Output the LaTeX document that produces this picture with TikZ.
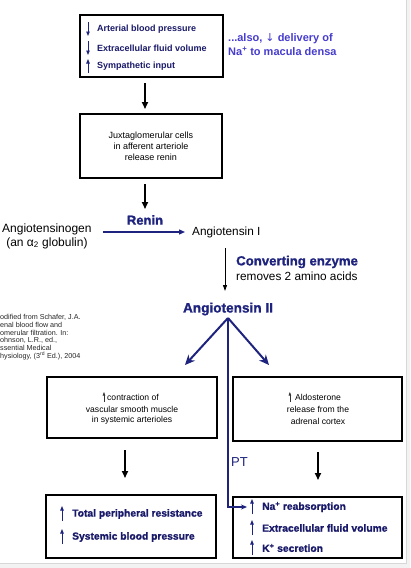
\documentclass[tikz,border=0pt]{standalone}
\usepackage{fontspec}
\setmainfont{Liberation Sans}
\newfontfamily\djv{DejaVu Sans}
\newfontfamily\heavy[FakeBold=1.2]{Liberation Sans Bold}
\usetikzlibrary{arrows.meta}
\definecolor{navy}{RGB}{30,35,125}
\definecolor{boxtxt}{RGB}{25,25,105}
\definecolor{alsoblue}{RGB}{70,60,205}
\definecolor{edgegray}{RGB}{215,215,215}
\definecolor{stripgray}{RGB}{242,242,242}
\tikzset{
  box/.style={draw=black, line width=1.8pt, rectangle, inner sep=0pt},
  lbl/.style={inner sep=0pt, anchor=west},
  cbox/.style={inner sep=0pt, align=center, font=\fontsize{9}{11.2}\selectfont},
  listone/.style={inner sep=0pt, anchor=west, text=boxtxt, font=\fontsize{9}{11}\selectfont\bfseries},
  listtwo/.style={inner sep=0pt, anchor=west, text=boxtxt, font=\fontsize{10.3}{12}\selectfont\heavy},
  flowarr/.style={line width=1.6pt, -{Triangle[length=7pt,width=6pt]}},
  thinarr/.style={line width=1pt, -{Triangle[length=6pt,width=4pt]}},
  navyarr/.style={draw=navy, line width=1.3pt, -{Triangle[length=6pt,width=5pt]}, fill=navy},
  vee/.style={draw=navy, line width=2pt, -{Stealth[length=10pt,width=9pt]}},
  bluearr/.style={draw=navy, line width=1.2pt, -{Stealth[length=6pt,width=5pt]}},
  uarr/.style={draw=navy, line width=0.9pt, -{Triangle[length=4.5pt,width=3.5pt]}},
  smallarr/.style={draw=black!80, line width=0.6pt, -{Triangle[length=3.5pt,width=2.5pt]}},
  stxt/.style={inner sep=0pt, font=\fontsize{8.6}{11}\selectfont},
}
\begin{document}
\begin{tikzpicture}[x=1pt,y=-1pt]
\useasboundingbox (0,0) rectangle (410,568);
% page edges
\fill[stripgray] (406,0) rectangle (410,568);
\fill[stripgray] (0,563) rectangle (410,568);
\draw[edgegray, line width=0.8pt] (406,0) -- (406,563) -- (0,563);

% boxes
\node[box, minimum width=143pt, minimum height=62pt] (b1) at (151.5,46) {};
\node[box, minimum width=142pt, minimum height=64pt, cbox] (b2) at (151,146)
  {Juxtaglomerular cells\\in afferent arteriole\\release renin};
\node[box, minimum width=170pt, minimum height=61pt] (b3) at (132,407.5) {};
\node[box, minimum width=169pt, minimum height=64pt] (b4) at (317.5,409) {};
\node[box, minimum width=170pt, minimum height=63pt] (b5) at (131,526.5) {};
\node[box, minimum width=169pt, minimum height=61pt] (b6) at (317.5,527.5) {};

% box 1 list
\node[listone] (t11) at (97,29) {Arterial blood pressure};
\node[listone] (t12) at (97,48) {Extracellular fluid volume};
\node[listone] (t13) at (97,66) {Sympathetic input};
\draw[uarr] (88,22) -- (88,36);
\draw[uarr] (88,41) -- (88,55);
\draw[uarr] (88,73) -- (88,59);

% also note
\node[lbl, text=alsoblue, font=\fontsize{11}{14}\selectfont\bfseries, align=left, anchor=north west] (also) at (228,33)
  {...also, {\djv\mdseries ↓} delivery of\\Na\textsuperscript{+} to macula densa};

% flow arrows between top boxes
\coordinate (a1s) at (145,83);
\coordinate (a1e) at (145,109);
\draw[flowarr] (a1s) -- (a1e);
\coordinate (a2s) at (145,184);
\coordinate (a2e) at (145,209);
\draw[flowarr] (a2s) -- (a2e);

% renin step
\node[lbl, font=\fontsize{12}{14}\selectfont] (agen1) at (2,229) {Angiotensinogen};
\node[inner sep=0pt, font=\fontsize{12}{14}\selectfont] (agen2) at (agen1.center |- 0,243) {(an α\textsubscript{2} globulin)};
\node[lbl, font=\fontsize{11.8}{14}\selectfont] (ang1) at (192,232) {Angiotensin I};
\draw[navyarr, shorten <=11pt, shorten >=7pt] (agen1.east |- ang1.west) -- (ang1.west);
\node[inner sep=0pt, text=navy, font=\fontsize{13}{15}\selectfont\heavy] (renin) at (145,220) {Renin};

% converting enzyme
\node[lbl, text=navy, font=\fontsize{13.2}{15}\selectfont\heavy] (ce) at (236,262) {Converting enzyme};
\node[lbl, font=\fontsize{11.8}{13}\selectfont] (ce2) at (236,276) {removes 2 amino acids};
\node[inner sep=0pt, text=navy, font=\fontsize{13.6}{15}\selectfont\heavy] (ang2) at (228,309) {Angiotensin II};
\coordinate (c1) at (225,248);
\coordinate (c2) at (225,291);
\draw[thinarr] (c1) -- (c2);

% V arrows
\coordinate (apex) at (228,318);
\coordinate (vl) at (185,365);
\coordinate (vr) at (269,365);
\draw[vee] (apex) -- (vl);
\draw[vee] (apex) -- (vr);
\coordinate (pbend) at (228,507);
\coordinate (ptip) at (247,507);
\draw[bluearr, line join=miter] (apex) -- (pbend) -- (ptip);
\node[lbl, text=navy, font=\fontsize{13}{15}\selectfont] (pt) at (231,462) {PT};

% citation
\node[inner sep=0pt, anchor=north west, align=left, font=\fontsize{7.2}{7.8}\selectfont, text=black!85] (cite) at (0,314)
  {odified from Schafer, J.A.\\enal blood flow and\\omerular filtration. In:\\ohnson, L.R., ed.,\\ssential Medical\\hysiology, (3\textsuperscript{rd} Ed.), 2004};

% box 3 text
\node[stxt] (t31) at (133,397) {contraction of};
\node[stxt] (t32) at (132,409) {vascular smooth muscle};
\node[stxt] (t33) at (132,420) {in systemic arterioles};
\draw[smallarr] ([xshift=-3pt,yshift=-5pt]t31.west) -- ([xshift=-3pt,yshift=5pt]t31.west);

% box 4 text
\node[stxt] (t41) at (318,397) {Aldosterone};
\node[stxt] (t42) at (318,409) {release from the};
\node[stxt] (t43) at (318,421) {adrenal cortex};
\draw[smallarr] ([xshift=-5pt,yshift=-5pt]t41.west) -- ([xshift=-5pt,yshift=5pt]t41.west);

% lower flow arrows
\coordinate (l1) at (125,450);
\coordinate (l2) at (125,478);
\draw[flowarr] (l1) -- (l2);
\coordinate (r1) at (318,452);
\coordinate (r2) at (318,480);
\draw[flowarr] (r1) -- (r2);

% box 5 list
\node[listtwo] (t51) at (72,514) {Total peripheral resistance};
\node[listtwo] (t52) at (72,537) {Systemic blood pressure};
\draw[uarr] (62,521) -- (62,506);
\draw[uarr] (62,544) -- (62,529);

% box 6 list
\node[listtwo] (t61) at (262,507) {Na\textsuperscript{+} reabsorption};
\node[listtwo] (t62) at (262,528) {Extracellular fluid volume};
\node[listtwo] (t63) at (262,548) {K\textsuperscript{+} secretion};
\draw[uarr] (252,514) -- (252,499);
\draw[uarr] (252,535) -- (252,520);
\draw[uarr] (252,555) -- (252,540);
\end{tikzpicture}
\end{document}
